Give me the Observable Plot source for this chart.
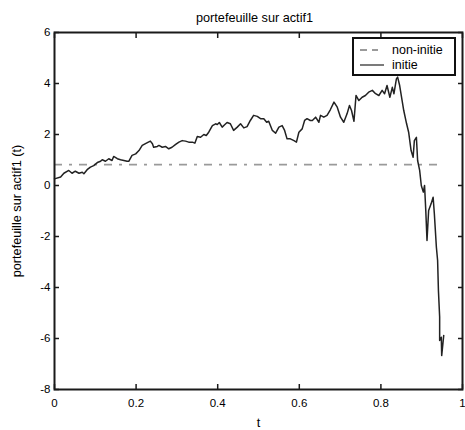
<!DOCTYPE html>
<html><head><meta charset="utf-8">
<script src="https://cdn.jsdelivr.net/npm/d3@7"></script>
<script src="https://cdn.jsdelivr.net/npm/@observablehq/plot@0.6"></script>
<style>
body{margin:0;background:#fff;}
#wrap{position:relative;width:465px;height:430px;font-family:"Liberation Sans",Arial,sans-serif;}
#legend{position:absolute;left:352px;top:37px;width:100px;height:35px;border:2px solid #111;background:#fff;font-size:12.5px;color:#000;}
#legend .row{position:absolute;left:0;height:14px;line-height:14px;}
#legend svg{position:absolute;left:6px;top:0;}
#legend span{position:absolute;left:38px;top:0;white-space:nowrap;}
</style></head>
<body>
<div id="wrap"></div>
<script>
const titleText = "portefeuille sur actif1";
const xLabel = "t";
const yLabel = "portefeuille sur actif1 (t)";
const seriesNames = ["non-initie", "initie"];
const xTicks = [0, 0.2, 0.4, 0.6, 0.8, 1];
const yTicks = [-8, -6, -4, -2, 0, 2, 4, 6];
const nonInitieLevel = 0.82;
const tValues = [0,0.015,0.023,0.035,0.043,0.051,0.060,0.068,0.072,0.080,0.088,0.096,0.105,0.113,0.117,0.125,0.133,0.141,0.145,0.154,0.162,0.170,0.178,0.182,0.190,0.199,0.207,0.215,0.223,0.230,0.235,0.240,0.243,0.252,0.256,0.264,0.272,0.280,0.288,0.297,0.305,0.313,0.321,0.329,0.338,0.344,0.350,0.358,0.366,0.372,0.378,0.387,0.395,0.399,0.404,0.411,0.417,0.423,0.431,0.439,0.448,0.456,0.464,0.472,0.480,0.488,0.497,0.505,0.513,0.520,0.525,0.534,0.542,0.550,0.558,0.564,0.570,0.578,0.587,0.593,0.599,0.607,0.613,0.619,0.627,0.632,0.640,0.648,0.652,0.660,0.668,0.676,0.685,0.693,0.701,0.709,0.717,0.723,0.728,0.734,0.739,0.746,0.754,0.762,0.770,0.779,0.787,0.795,0.803,0.809,0.815,0.822,0.828,0.832,0.838,0.841,0.846,0.852,0.856,0.863,0.868,0.874,0.879,0.882,0.887,0.890,0.895,0.899,0.904,0.907,0.910,0.913,0.917,0.923,0.928,0.931,0.936,0.939,0.941,0.944,0.944,0.948,0.949,0.954];
const initieValues = [0.26,0.33,0.48,0.59,0.48,0.56,0.48,0.52,0.46,0.62,0.72,0.78,0.90,0.95,1.01,0.95,1.05,0.98,1.14,1.05,1.01,0.98,0.95,0.95,1.18,1.24,1.37,1.57,1.64,1.70,1.74,1.64,1.50,1.53,1.57,1.50,1.53,1.44,1.50,1.61,1.70,1.76,1.74,1.70,1.70,1.66,1.92,1.89,2.00,1.96,2.09,2.35,2.42,2.39,2.47,2.29,2.38,2.47,2.42,2.16,2.29,2.42,2.26,2.31,2.55,2.75,2.71,2.62,2.62,2.48,2.52,2.16,2.05,2.29,2.35,2.16,1.83,1.83,1.76,1.70,2.09,2.22,2.55,2.62,2.55,2.55,2.68,2.48,2.75,2.68,2.75,2.97,3.27,3.07,2.68,2.48,2.81,3.14,2.94,2.52,3.53,3.33,3.46,3.53,3.66,3.73,3.60,3.53,3.73,3.60,3.92,3.46,3.85,3.60,4.18,4.25,3.92,3.33,2.94,2.42,2.09,1.37,1.11,1.76,1.89,0.98,0.59,0.0,-0.26,0.0,-0.98,-2.16,-0.98,-0.72,-0.46,-1.11,-2.42,-2.94,-4.12,-5.16,-6.08,-5.95,-6.67,-5.88];

const data = tValues.map((t, i) => ({t, v: initieValues[i]}));
const tStart = tValues[0], tEnd = tValues[tValues.length - 1];
const fmt = d => String(d);
const axisColor = "#1a1a1a";

const chart = Plot.plot({
  width: 465, height: 430,
  marginLeft: 54, marginRight: 3, marginTop: 32, marginBottom: 41,
  x: {domain: [0, 1]},
  y: {domain: [-8, 6]},
  style: {fontFamily: "'Liberation Sans', Arial, sans-serif", fontSize: "11.5px", color: "#000", background: "#fff"},
  marks: [
    Plot.ruleY([nonInitieLevel], {x1: tStart, x2: tEnd, stroke: "#9a9a9a", strokeWidth: 1.8, strokeDasharray: "8,7,3,7"}),
    Plot.line(data, {x: "t", y: "v", stroke: "#222", strokeWidth: 1.5}),
    Plot.axisX(xTicks, {anchor: "bottom", tickSize: 5, dy: -5, fill: "none", stroke: axisColor, strokeWidth: 1.5, label: null}),
    Plot.axisX(xTicks, {anchor: "top", tickSize: 5, dy: 5, fill: "none", stroke: axisColor, strokeWidth: 1.5, label: null}),
    Plot.axisY(yTicks, {anchor: "left", tickSize: 5, dx: 5, fill: "none", stroke: axisColor, strokeWidth: 1.5, label: null}),
    Plot.axisY(yTicks, {anchor: "right", tickSize: 5, dx: -5, fill: "none", stroke: axisColor, strokeWidth: 1.5, label: null}),
    Plot.axisX(xTicks, {anchor: "bottom", tickSize: 0, tickPadding: 9, tickFormat: fmt, stroke: "none", fill: "#000", label: null, fontSize: 11.5}),
    Plot.axisY(yTicks, {anchor: "left", tickSize: 0, tickPadding: 4, tickFormat: fmt, stroke: "none", fill: "#000", label: null, fontSize: 11.5}),
    Plot.frame({stroke: axisColor, strokeWidth: 2}),
    Plot.text([titleText], {frameAnchor: "top", textAnchor: "middle", lineAnchor: "middle", dx: -4, dy: -14.5, fontSize: 12.7, fill: "#000"}),
    Plot.text([xLabel], {frameAnchor: "bottom", textAnchor: "middle", lineAnchor: "middle", dy: 33, fontSize: 12.7, fill: "#000"}),
    Plot.text([yLabel], {frameAnchor: "left", textAnchor: "middle", lineAnchor: "middle", dx: -38, rotate: -90, fontSize: 12.7, fill: "#000"})
  ]
});
const wrap = document.getElementById("wrap");
wrap.appendChild(chart);

const legend = document.createElement("div");
legend.id = "legend";
legend.innerHTML = `
  <div class="row" style="top:4px;width:100px;">
    <svg width="24" height="14"><line x1="0" x2="24" y1="7" y2="7" stroke="#9a9a9a" stroke-width="1.8" stroke-dasharray="7,5,6,20"/></svg>
    <span>${seriesNames[0]}</span>
  </div>
  <div class="row" style="top:19px;width:100px;">
    <svg width="24" height="14"><line x1="0" x2="24" y1="7" y2="7" stroke="#333" stroke-width="1.3"/></svg>
    <span>${seriesNames[1]}</span>
  </div>`;
wrap.appendChild(legend);
</script>
</body></html>
